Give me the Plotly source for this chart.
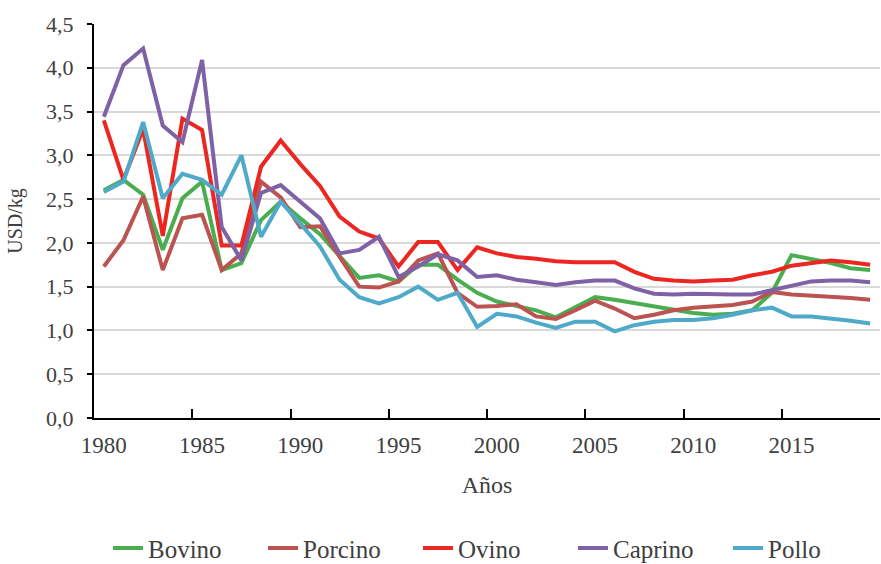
import plotly.graph_objects as go

years = list(range(1980, 2020))

bovino = [2.60, 2.72, 2.55, 1.92, 2.51, 2.70, 1.69, 1.77, 2.26, 2.47,
          2.28, 2.10, 1.85, 1.60, 1.63, 1.56, 1.75, 1.75, 1.58, 1.43,
          1.33, 1.28, 1.23, 1.15, 1.27, 1.38, 1.35, 1.31, 1.27, 1.23,
          1.20, 1.18, 1.19, 1.23, 1.43, 1.86, 1.82, 1.77, 1.71, 1.69]
porcino = [1.73, 2.03, 2.53, 1.69, 2.28, 2.32, 1.69, 1.88, 2.70, 2.52,
           2.18, 2.19, 1.84, 1.50, 1.49, 1.56, 1.80, 1.88, 1.43, 1.27,
           1.28, 1.30, 1.16, 1.13, 1.23, 1.34, 1.25, 1.14, 1.18, 1.23,
           1.26, 1.27, 1.29, 1.33, 1.44, 1.41, 1.40, 1.38, 1.37, 1.35]
ovino = [3.40, 2.72, 3.30, 2.08, 3.42, 3.29, 1.97, 1.97, 2.87, 3.17,
         2.90, 2.65, 2.30, 2.13, 2.05, 1.73, 2.01, 2.01, 1.69, 1.95,
         1.88, 1.84, 1.82, 1.79, 1.78, 1.78, 1.78, 1.67, 1.59, 1.57,
         1.56, 1.57, 1.58, 1.63, 1.67, 1.74, 1.77, 1.80, 1.78, 1.75]
caprino = [3.44, 4.03, 4.22, 3.34, 3.15, 4.09, 2.18, 1.80, 2.57, 2.66,
           2.47, 2.28, 1.88, 1.92, 2.07, 1.61, 1.73, 1.87, 1.80, 1.61,
           1.63, 1.58, 1.55, 1.52, 1.55, 1.57, 1.57, 1.48, 1.42, 1.41,
           1.42, 1.41, 1.41, 1.41, 1.46, 1.52, 1.56, 1.57, 1.57, 1.55]
pollo = [2.58, 2.70, 3.38, 2.51, 2.79, 2.72, 2.55, 3.00, 2.07, 2.47,
         2.22, 1.96, 1.58, 1.38, 1.31, 1.38, 1.50, 1.35, 1.43, 1.04,
         1.19, 1.16, 1.09, 1.03, 1.10, 1.10, 0.99, 1.06, 1.10, 1.12,
         1.12, 1.14, 1.18, 1.23, 1.26, 1.16, 1.16, 1.14, 1.11, 1.08]

series = [
    ("Bovino", bovino, "#4aad4f"),
    ("Porcino", porcino, "#bb5451"),
    ("Ovino", ovino, "#ec2620"),
    ("Caprino", caprino, "#7f61a5"),
    ("Pollo", pollo, "#4fa9c8"),
]

x_labels = [1980, 1985, 1990, 1995, 2000, 2005, 2010, 2015]
x_ticks_between = [1984.5, 1989.5, 1994.5, 1999.5, 2004.5, 2009.5, 2014.5]
y_ticks = [0, 0.5, 1.0, 1.5, 2.0, 2.5, 3.0, 3.5, 4.0, 4.5]

fig = go.Figure()
for name, vals, color in series:
    fig.add_trace(go.Scatter(x=years, y=vals, name=name, mode="lines",
                             line=dict(color=color, width=4)))

font_family = "Liberation Serif, Times New Roman, serif"
fig.update_layout(
    width=881, height=564,
    margin=dict(l=94, r=1, t=24, b=146, autoexpand=False),
    plot_bgcolor="white", paper_bgcolor="white",
    separators=",.",
    font=dict(family=font_family, size=22, color="#404040"),
    showlegend=True,
    legend=dict(orientation="h", xref="container", yref="container",
                x=108 / 881, xanchor="left", y=0.028, yanchor="middle",
                font=dict(size=25, color="#404040"),
                entrywidth=110, entrywidthmode="pixels", itemwidth=30,
                tracegroupgap=0),
    xaxis=dict(range=[1979.5, 2019.5], tickvals=x_labels, ticks="",
               showgrid=False, showline=True, linecolor="black", linewidth=2,
               tickfont=dict(size=23), ticklabelstandoff=5,
               minor=dict(tickvals=x_ticks_between, ticks="inside", ticklen=9,
                          tickcolor="black", tickwidth=2, showgrid=False),
               title=dict(text="Años", font=dict(size=24), standoff=20)),
    yaxis=dict(range=[0, 4.5], tickvals=y_ticks, tickformat=".1f",
               showgrid=True, gridcolor="#d9d9d9", gridwidth=2,
               showline=True, linecolor="black", linewidth=2,
               ticks="outside", ticklen=5, tickcolor="black", tickwidth=2,
               tickfont=dict(size=22), zeroline=False, ticklabelstandoff=9,
               title=dict(text="USD/kg", font=dict(size=20), standoff=18)),
)

fig.write_html("out.html")
